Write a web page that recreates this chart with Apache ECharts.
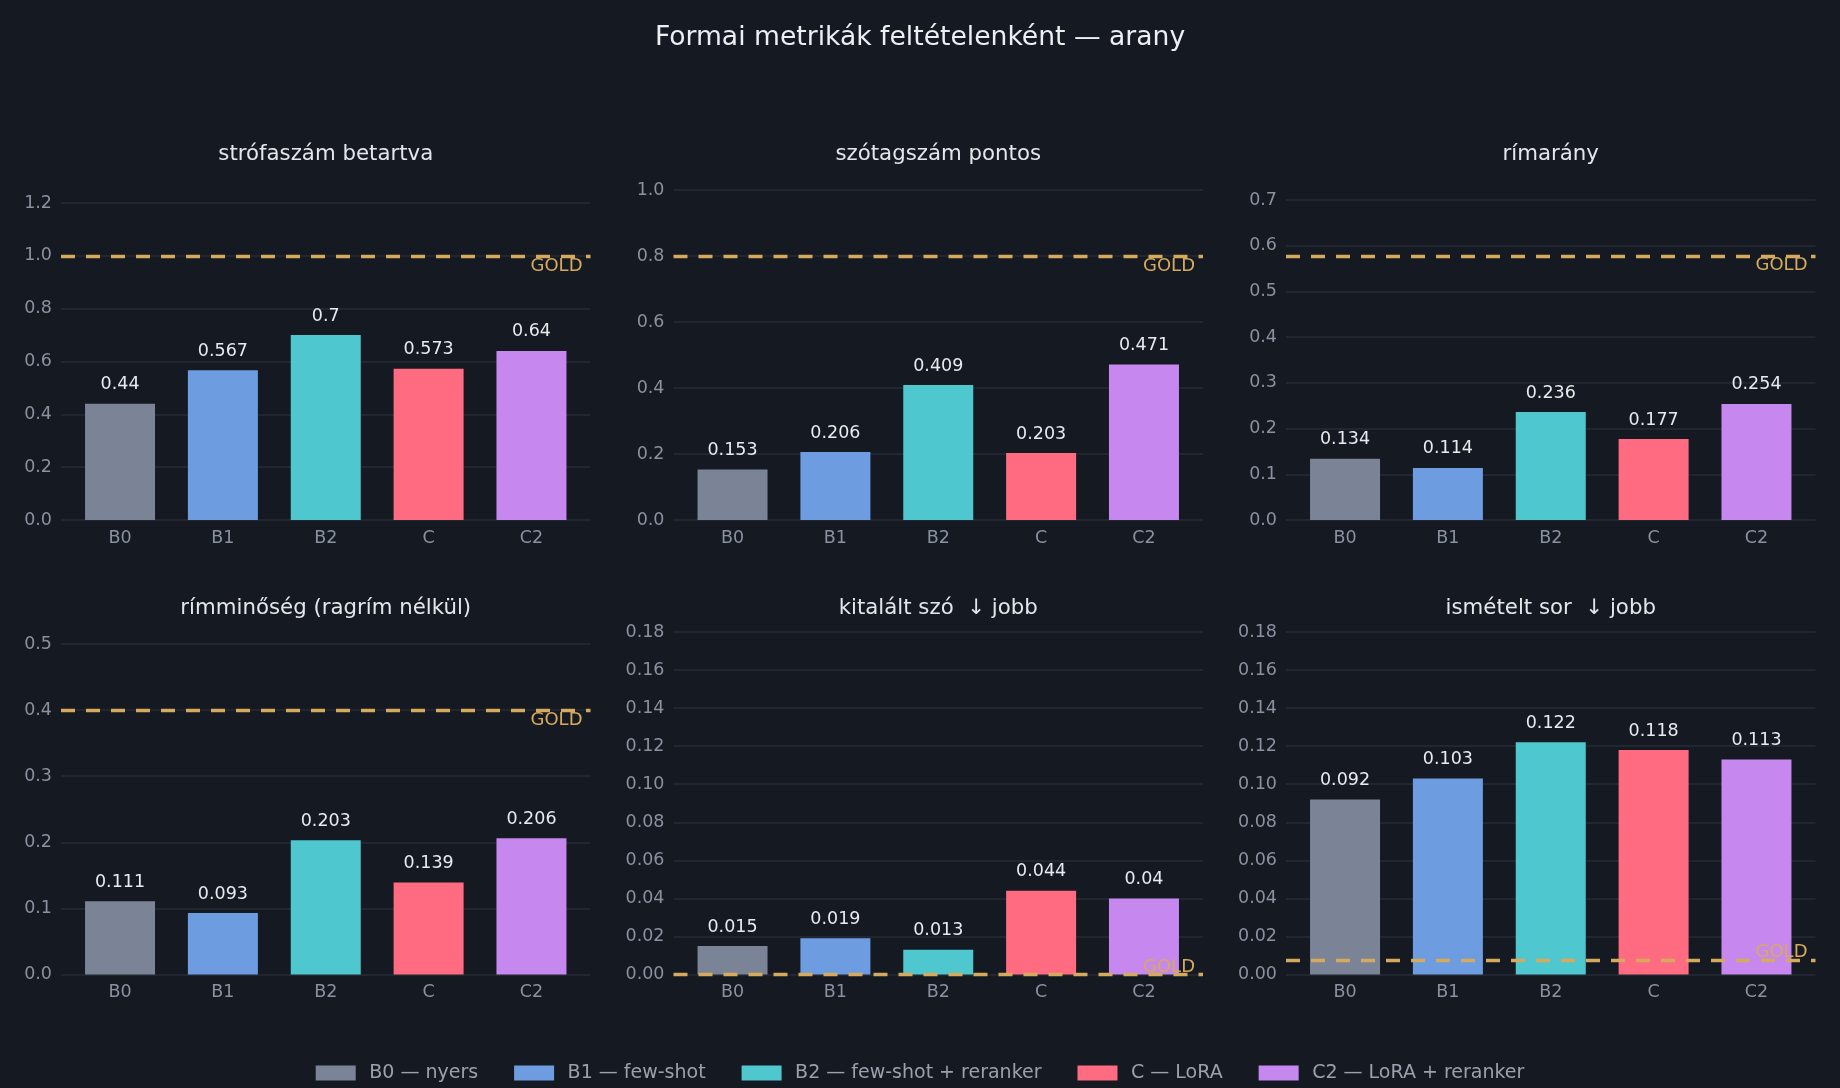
<!DOCTYPE html>
<html>
<head>
<meta charset="utf-8">
<title>Formai metrikák feltételenként — arany</title>
<script src="https://cdn.jsdelivr.net/npm/echarts@6/dist/echarts.min.js"></script>
<style>
  html, body { margin: 0; padding: 0; background: #151922; }
  #chart { width: 1840px; height: 1088px; }
</style>
</head>
<body>
<div id="chart"></div>
<script>
// condition codes and legend names
const categories = ['B0', 'B1', 'B2', 'C', 'C2'];
const seriesNames = ['B0 — nyers', 'B1 — few-shot', 'B2 — few-shot + reranker', 'C — LoRA', 'C2 — LoRA + reranker'];
const colors = ['#7b8496', '#6e9ce0', '#4fc7cf', '#ff6b81', '#c688ef'];

const panelTitles = [
  'strófaszám betartva',
  'szótagszám pontos',
  'rímarány',
  'rímminőség (ragrím nélkül)',
  'kitalált szó  ↓ jobb',
  'ismételt sor  ↓ jobb'
];

// one array per panel, values in category order
const strofaszam = [0.44, 0.567, 0.7, 0.573, 0.64];
const szotagszam = [0.153, 0.206, 0.409, 0.203, 0.471];
const rimarany = [0.134, 0.114, 0.236, 0.177, 0.254];
const rimminoseg = [0.111, 0.093, 0.203, 0.139, 0.206];
const kitaltSzo = [0.015, 0.019, 0.013, 0.044, 0.04];
const ismeteltSor = [0.092, 0.103, 0.122, 0.118, 0.113];
const panelValues = [strofaszam, szotagszam, rimarany, rimminoseg, kitaltSzo, ismeteltSor];

// gold reference per panel
const goldValues = [1.0, 0.8, 0.578, 0.4, 0.0, 0.0075];

// y tick labels: top tick, step, decimals
const yMax = [1.2, 1.0, 0.7, 0.5, 0.18, 0.18];
const yStep = [0.2, 0.2, 0.1, 0.1, 0.02, 0.02];
const tickDecimals = [1, 1, 1, 1, 2, 2];

const FONT = '"DejaVu Sans", Verdana, sans-serif';
const GOLD = '#d6aa5c';
const GRID_LINE = '#262b37';
const TICK_TEXT = '#8a919f';

// panel frames (px)
const colLeft = [61, 673.5, 1286];
const panelWidth = 529.5;
const rowBottom = [520, 974.5];
const panelTop = [203, 190, 200, 644, 632, 632];
const titleY = [154.5, 608.5];

const chart = echarts.init(document.getElementById('chart'));

const grids = [], xAxes = [], yAxes = [], series = [], graphics = [];

panelValues.forEach((values, p) => {
  const col = p % 3, row = Math.floor(p / 3);
  const top = panelTop[p];
  grids.push({
    left: colLeft[col],
    top: top,
    width: panelWidth,
    height: rowBottom[row] - top
  });
  xAxes.push({
    type: 'value',
    gridIndex: p,
    min: -0.574,
    max: 4.574,
    axisLine: { show: false },
    axisTick: { show: false },
    splitLine: { show: false },
    axisLabel: {
      customValues: [0, 1, 2, 3, 4],
      color: TICK_TEXT,
      fontFamily: FONT,
      fontSize: 17.5,
      margin: 9,
      formatter: v => (Number.isInteger(v) && categories[v] !== undefined) ? categories[v] : ''
    }
  });
  yAxes.push({
    type: 'value',
    gridIndex: p,
    min: 0,
    max: yMax[p],
    interval: yStep[p],
    axisLine: { show: false },
    axisTick: { show: false },
    splitLine: { lineStyle: { color: GRID_LINE, width: 1.5 } },
    axisLabel: {
      color: TICK_TEXT,
      fontFamily: FONT,
      fontSize: 17.5,
      margin: 9,
      formatter: v => v.toFixed(tickDecimals[p])
    }
  });

  categories.forEach((cat, i) => {
    const s = {
      name: seriesNames[i],
      type: 'bar',
      xAxisIndex: p,
      yAxisIndex: p,
      barWidth: 70,
      barGap: '-100%',
      itemStyle: { color: colors[i] },
      label: {
        show: true,
        position: 'top',
        distance: 10,
        color: '#e8eaee',
        fontFamily: FONT,
        fontSize: 17.5,
        formatter: d => String(d.value[1])
      },
      data: [[i, values[i]]]
    };
    if (i === 0) {
      const low = goldValues[p] < 0.1 * yMax[p];
      s.markLine = {
        silent: true,
        symbol: ['none', 'none'],
        precision: 4,
        animation: false,
        lineStyle: { color: GOLD, type: [14, 11], width: 3.3 },
        label: {
          show: true,
          formatter: 'GOLD',
          position: low ? 'insideEndTop' : 'insideEndBottom',
          distance: low ? [8, -1.5] : [8, 1],
          color: GOLD,
          fontFamily: FONT,
          fontSize: 18
        },
        data: [{ yAxis: goldValues[p] }]
      };
    }
    series.push(s);
  });

  graphics.push({
    type: 'text',
    x: colLeft[col] + panelWidth / 2,
    y: titleY[row],
    style: {
      text: panelTitles[p],
      fill: '#e4e6ea',
      font: '21.3px ' + FONT,
      textAlign: 'center',
      textVerticalAlign: 'middle'
    }
  });
});

chart.setOption({
  backgroundColor: '#151922',
  animation: false,
  title: {
    text: 'Formai metrikák feltételenként — arany',
    left: 'center',
    top: 24.5,
    padding: 0,
    textStyle: { color: '#eceef2', fontFamily: FONT, fontSize: 26.6, fontWeight: 'normal' }
  },
  legend: {
    data: seriesNames,
    left: 'center',
    top: 1058.5,
    icon: 'rect',
    itemWidth: 40,
    itemHeight: 15,
    itemGap: 36,
    textStyle: { color: '#9ba1ac', fontFamily: FONT, fontSize: 19, padding: [0, 0, 0, 8.5] }
  },
  grid: grids,
  xAxis: xAxes,
  yAxis: yAxes,
  graphic: graphics,
  series: series
});
</script>
</body>
</html>
